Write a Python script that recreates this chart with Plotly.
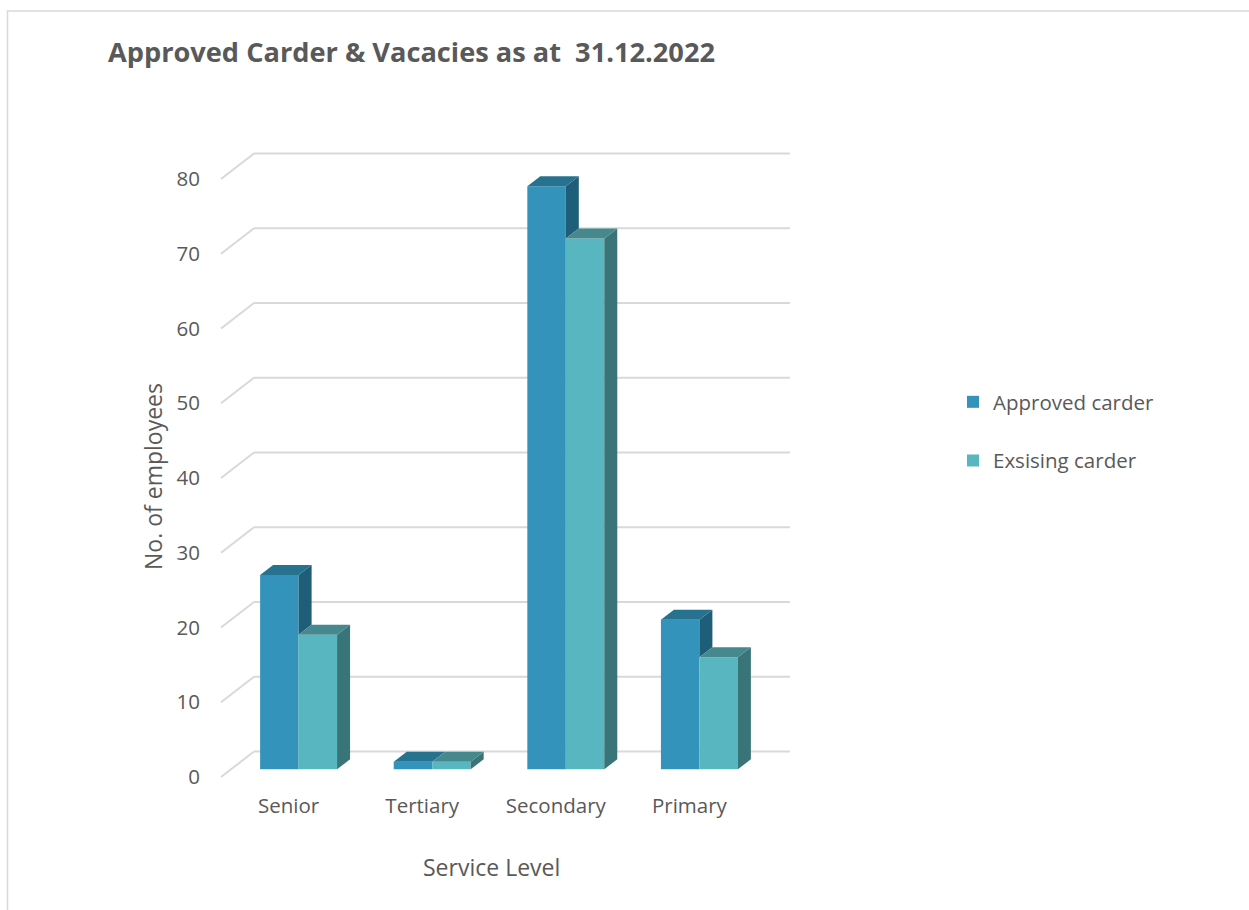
import plotly.graph_objects as go

# ---------------- data ----------------
categories = ["Senior", "Tertiary", "Secondary", "Primary"]
approved_carder = [26, 1, 78, 20]
existing_carder = [18, 1, 71, 15]
series_names = ["Approved carder", "Exsising carder"]
y_ticks = [0, 10, 20, 30, 40, 50, 60, 70, 80]

# ---------------- layout constants (pixels) ----------------
W, H = 1249, 910
L, R, T, B = 218, 1249 - 793, 140, 910 - 786
PX_X = 133.6          # px per category step
PX_Y = 7.475          # px per unit value
CAT0_PX = 288.6       # px of category 0 on the front plane
ZERO_PX = 777.0       # px of value 0 on the front plane

x_range = [(L - CAT0_PX) / PX_X, (W - R - CAT0_PX) / PX_X]
y_range = [(ZERO_PX - (H - B)) / PX_Y, (ZERO_PX - T) / PX_Y]

# depth offsets (in axis units)
DXF, DYF = 33 / PX_X, 25.5 / PX_Y      # floor/back-wall depth
DXO, DYO = 10 / PX_X, 7.7 / PX_Y       # bar front plane offset
DXB, DYB = 13 / PX_X, 10 / PX_Y        # bar depth
FRONT_LEFT = (221 - CAT0_PX) / PX_X
BACK_RIGHT = (790 - CAT0_PX) / PX_X

BAR_W = 0.288
TEXT = "#595959"
GRID = "#d9d9d9"
FRONT = ["#3393BA", "#58B6C0"]
TOP = ["#27728F", "#45898F"]
SIDE = ["#1F5E78", "#397479"]
FONT = "Open Sans"

x_idx = list(range(len(categories)))
fig = go.Figure()
for s, vals in enumerate([approved_carder, existing_carder]):
    fig.add_trace(go.Bar(
        x=x_idx, y=vals, name=series_names[s], xaxis="x2", yaxis="y2",
        marker=dict(color=FRONT[s], line=dict(width=0)),
        legendgroup=f"g{s}",
    ))

shapes = []
# back wall gridlines + floor diagonals
for v in y_ticks:
    shapes.append(dict(type="line", xref="x", yref="y", layer="below",
                       x0=FRONT_LEFT, y0=v, x1=FRONT_LEFT + DXF, y1=v + DYF,
                       line=dict(color=GRID, width=2)))
    shapes.append(dict(type="line", xref="x", yref="y", layer="below",
                       x0=FRONT_LEFT + DXF, y0=v + DYF, x1=BACK_RIGHT, y1=v + DYF,
                       line=dict(color=GRID, width=2)))

# 3-D top and side faces of the bars
def poly(pts):
    return "M " + " L ".join(f"{x},{y}" for x, y in pts) + " Z"

for i in x_idx:
    vals = [approved_carder[i], existing_carder[i]]
    for s in range(2):
        v = vals[s]
        xl = i - BAR_W + s * BAR_W
        xr = xl + BAR_W
        # side face
        if s == 0:
            low = vals[1]
            if low < v:
                shapes.append(dict(type="path", xref="x2", yref="y2", layer="above",
                                   path=poly([(xr, v), (xr + DXB, v + DYB), (xr + DXB, low + DYB), (xr, low)]),
                                   fillcolor=SIDE[s], line=dict(width=0)))
        else:
            shapes.append(dict(type="path", xref="x2", yref="y2", layer="above",
                               path=poly([(xr, v), (xr + DXB, v + DYB), (xr + DXB, DYB), (xr, 0)]),
                               fillcolor=SIDE[s], line=dict(width=0)))
        # top face
        shapes.append(dict(type="path", xref="x2", yref="y2", layer="above",
                           path=poly([(xl, v), (xl + DXB, v + DYB), (xr + DXB, v + DYB), (xr, v)]),
                           fillcolor=TOP[s], line=dict(width=0)))

# chart border
pw, ph = W - L - R, H - T - B
def px2paper_x(px):
    return (px - L) / pw
def px2paper_y(py):
    return (H - B - py) / ph
shapes.append(dict(type="rect", xref="paper", yref="paper", layer="below",
                   x0=px2paper_x(7.5), y0=px2paper_y(11), x1=px2paper_x(1270), y1=px2paper_y(930),
                   line=dict(color=GRID, width=1.5), fillcolor="rgba(0,0,0,0)"))

annotations = [
    dict(text="No. of employees", xref="paper", yref="paper",
         x=px2paper_x(152.5), y=px2paper_y(476.5), showarrow=False, textangle=-90,
         xanchor="center", yanchor="middle", font=dict(family=FONT, size=23, color=TEXT)),
    dict(text="Service Level", xref="paper", yref="paper",
         x=px2paper_x(491.5), y=px2paper_y(867), showarrow=False,
         xanchor="center", yanchor="middle", font=dict(family=FONT, size=23, color=TEXT)),
]

fig.update_layout(
    width=W, height=H,
    margin=dict(l=L, r=R, t=T, b=B, autoexpand=False),
    paper_bgcolor="white", plot_bgcolor="white",
    barmode="group", bargap=1 - 2 * BAR_W, bargroupgap=0,
    title=dict(text="<b>Approved Carder &amp; Vacacies as at  31.12.2022</b>",
               x=108 / W, xanchor="left", xref="container",
               y=1 - 52 / H, yanchor="middle", yref="container",
               font=dict(family=FONT, size=27.2, color=TEXT)),
    xaxis=dict(range=x_range, tickvals=x_idx, ticktext=categories, showgrid=False,
               zeroline=False, showline=False, ticks="outside", ticklen=1,
               tickcolor="rgba(0,0,0,0)", tickfont=dict(family=FONT, size=20.5, color=TEXT)),
    yaxis=dict(range=y_range, tickvals=y_ticks, showgrid=False, zeroline=False,
               showline=False, ticks="outside", ticklen=13, tickcolor="rgba(0,0,0,0)",
               tickfont=dict(family=FONT, size=20.5, color=TEXT)),
    xaxis2=dict(range=[x_range[0] - DXO, x_range[1] - DXO], overlaying="x", visible=False),
    yaxis2=dict(range=[y_range[0] - DYO, y_range[1] - DYO], overlaying="y", visible=False),
    legend=dict(xref="container", yref="container", x=953 / W, y=1 - 382 / H,
                xanchor="left", yanchor="top", tracegroupgap=29,
                font=dict(family=FONT, size=20.5, color=TEXT), bgcolor="rgba(0,0,0,0)"),
    shapes=shapes, annotations=annotations,
    showlegend=True,
)

fig.write_html("out.html")
